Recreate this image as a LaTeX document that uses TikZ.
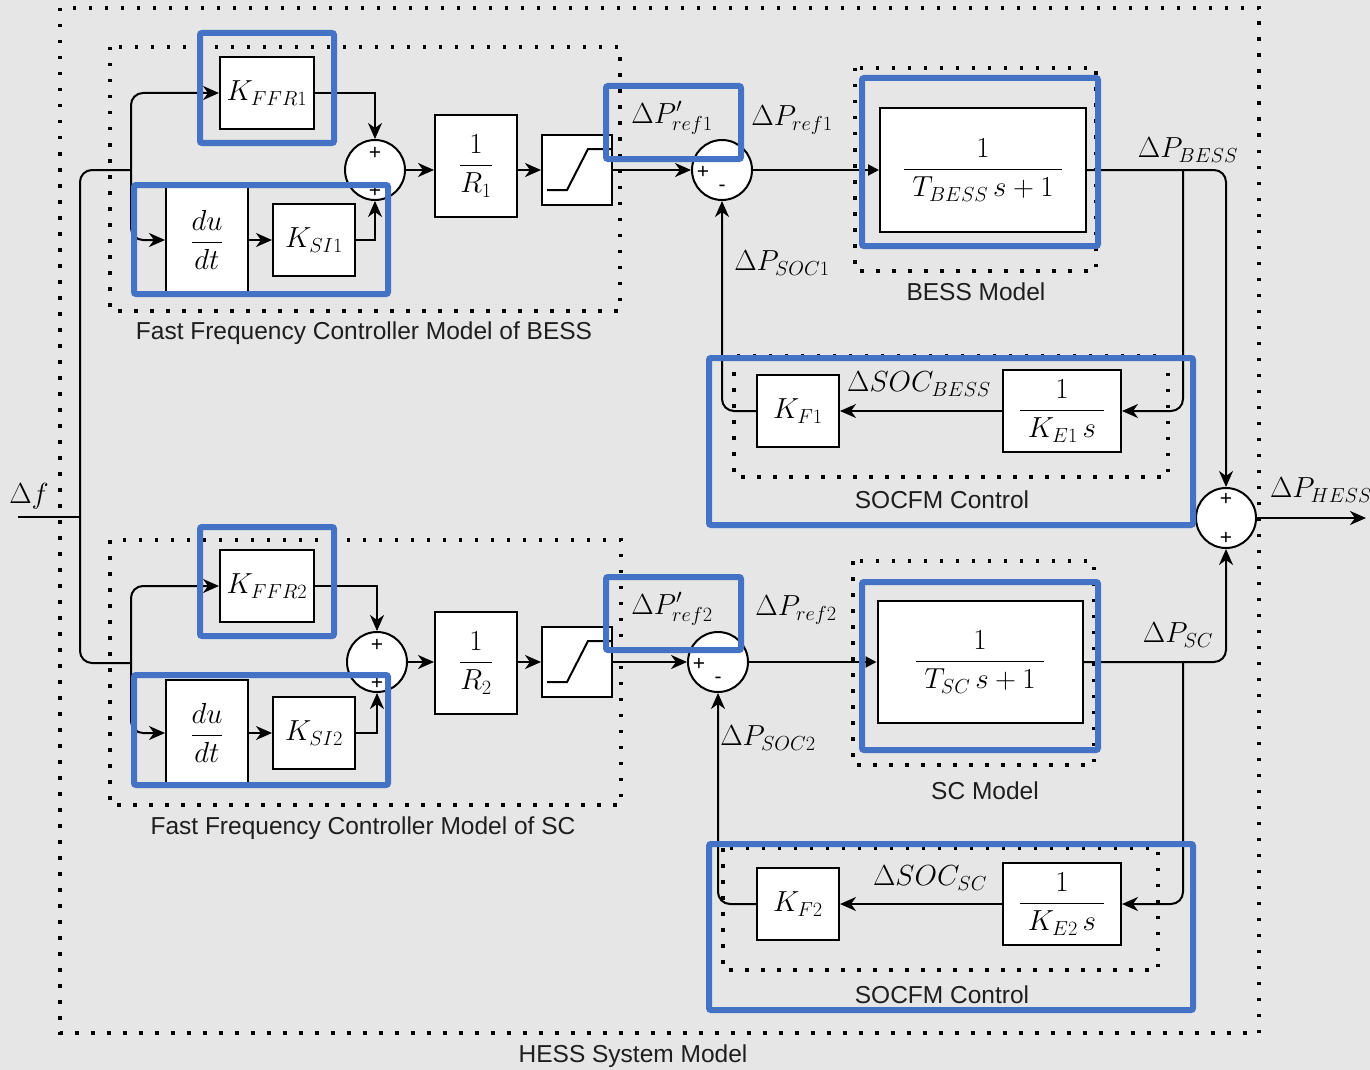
\RequirePackage{fix-cm}
\documentclass[tikz,border=0pt]{standalone}
\usepackage{amsmath}
\usepackage{fontspec}
\newfontfamily\labfont{Liberation Sans}
\usetikzlibrary{arrows.meta,calc}
\definecolor{bgc}{HTML}{E6E6E6}
\definecolor{hlblue}{HTML}{4472C4}
\definecolor{labc}{HTML}{1E1E1E}
\newcommand{\mfnt}{\fontsize{29}{35}\selectfont}
\begin{document}
\begin{tikzpicture}[x=1pt,y=-1pt,
  wire/.style={line width=2pt},
  arr/.style={wire,-{Stealth[length=16pt,width=14pt,inset=5pt]}},
  tri/.style={wire,-{Triangle[length=11pt,width=11pt]}},
  blk/.style={draw=black,line width=2pt,fill=white,inner sep=0pt,font=\mfnt},
  sumc/.style={circle,draw=black,line width=2pt,fill=white,minimum size=60pt,inner sep=0pt},
  sgn/.style={font=\labfont\fontsize{21}{21}\selectfont,inner sep=0pt},
  mlab/.style={font=\mfnt,inner sep=0pt},
  slab/.style={font=\labfont\fontsize{24.5}{28}\selectfont,text=labc,inner sep=0pt},
  dotfr/.style={line width=3.5pt,dash pattern=on 3.5pt off 12.5pt},
  hl/.style={draw=hlblue,line width=6pt,rounded corners=2pt},
  rc/.style={rounded corners=12pt}
]
\useasboundingbox (0,0) rectangle (1370,1070);
\fill[bgc] (0,0) rectangle (1370,1070);

% ---------- upper branch (BESS) ----------
\node[blk,minimum width=94pt,minimum height=72pt] (kffr1) at (267,93) {$K_{FFR1}$};
\node[blk,minimum width=82pt,minimum height=106pt] (dudt1) at (207,240) {$\dfrac{du}{dt}$};
\node[blk,minimum width=82pt,minimum height=72pt] (ksi1) at (314,240) {$K_{SI1}$};
\node[sumc] (sum1) at (375,170) {};
\node[blk,minimum width=82pt,minimum height=102pt] (r1) at (476,166) {$\dfrac{1}{R_1}$};
\node[blk,minimum width=70pt,minimum height=70pt] (lim1) at (577,170) {};
\node[sumc] (sum2) at (722,170) {};
\node[blk,minimum width=206pt,minimum height=124pt] (bess) at (983,170) {$\dfrac{\;1\;}{\;T_{BESS}\,s+1\;}$};
\node[blk,minimum width=82pt,minimum height=72pt] (kf1) at (798,411) {$K_{F1}$};
\node[blk,minimum width=118pt,minimum height=82pt] (ke1) at (1062,411) {$\dfrac{1}{\;K_{E1}\,s\;}$};
\node[sumc] (sum3) at (1226,518) {};

% ---------- lower branch (SC) ----------
\node[blk,minimum width=94pt,minimum height=72pt] (kffr2) at (267,586) {$K_{FFR2}$};
\node[blk,minimum width=82pt,minimum height=106pt] (dudt2) at (207,733) {$\dfrac{du}{dt}$};
\node[blk,minimum width=82pt,minimum height=72pt] (ksi2) at (314,733) {$K_{SI2}$};
\node[sumc] (sum4) at (377,662) {};
\node[blk,minimum width=82pt,minimum height=102pt] (r2) at (476,663) {$\dfrac{1}{R_2}$};
\node[blk,minimum width=70pt,minimum height=70pt] (lim2) at (577,662) {};
\node[sumc] (sum5) at (718,662) {};
\node[blk,minimum width=205pt,minimum height=122pt] (sc) at (980,662) {$\dfrac{\;1\;}{\;T_{SC}\,s+1\;}$};
\node[blk,minimum width=82pt,minimum height=72pt] (kf2) at (798,904) {$K_{F2}$};
\node[blk,minimum width=118pt,minimum height=82pt] (ke2) at (1062,904) {$\dfrac{1}{\;K_{E2}\,s\;}$};

% signs
\node[sgn] (s1a) at ($(sum1)+(0,-17)$) {+};
\node[sgn] (s1b) at ($(sum1)+(0,21)$) {+};
\node[sgn] (s2a) at ($(sum2)+(-19,2)$) {+};
\node[sgn] (s2b) at ($(sum2)+(0,18)$) {-};
\node[sgn] (s3a) at ($(sum3)+(0,-19)$) {+};
\node[sgn] (s3b) at ($(sum3)+(0,20)$) {+};
\node[sgn] (s4a) at ($(sum4)+(0,-17)$) {+};
\node[sgn] (s4b) at ($(sum4)+(0,21)$) {+};
\node[sgn] (s5a) at ($(sum5)+(-19,2)$) {+};
\node[sgn] (s5b) at ($(sum5)+(0,18)$) {-};

% limiter characteristics
\draw[wire] ($(lim1.center)+(-30,20)$) -- ++(20,0) -- ++(21,-41) -- ($(lim1.center)+(35,-21)$);
\draw[wire] ($(lim2.center)+(-30,20)$) -- ++(20,0) -- ++(21,-41) -- ($(lim2.center)+(35,-21)$);

% coordinates
\coordinate (dfin) at (18,517);
\coordinate (dfj) at (80,517);
\coordinate (br1) at (131,170);
\coordinate (br2) at (131,663);
\coordinate (bj1) at (1183,170);
\coordinate (bj2) at (1183,662);
\coordinate (out) at (1366,518);

% input distribution
\draw[wire] (dfin) -- (dfj);
\draw[wire,rc] (br1) -| (dfj) |- (br2);
\draw[arr,rc] (br1) |- (kffr1.west);
\draw[arr,rc] (br1) |- (dudt1.west);
\draw[arr,rc] (br2) |- (kffr2.west);
\draw[arr,rc] (br2) |- (dudt2.west);

% upper path
\draw[arr] (dudt1.east) -- (ksi1.west);
\draw[arr] (kffr1.east) -| (sum1.north);
\draw[arr] (ksi1.east) -| (sum1.south);
\draw[arr] (sum1.east) -- (sum1.east -| r1.west);
\draw[arr] (sum1.east -| r1.east) -- (lim1.west);
\draw[arr] (lim1.east) -- (sum2.west);
\draw[tri] (sum2.east) -- (bess.west);
\draw[arr,rc] (bess.east) -| (sum3.north);
\draw[arr,rc] (bj1) |- (ke1.east);
\draw[arr] (ke1.west) -- (kf1.east);
\draw[arr,rc] (kf1.west) -| (sum2.south);

% lower path
\draw[arr] (dudt2.east) -- (ksi2.west);
\draw[arr] (kffr2.east) -| (sum4.north);
\draw[arr] (ksi2.east) -| (sum4.south);
\draw[arr] (sum4.east) -- (sum4.east -| r2.west);
\draw[arr] (sum4.east -| r2.east) -- (lim2.west);
\draw[arr] (lim2.east) -- (sum5.west);
\draw[tri] (sum5.east) -- (sc.west);
\draw[arr,rc] (sc.east) -| (sum3.south);
\draw[arr,rc] (bj2) |- (ke2.east);
\draw[arr] (ke2.west) -- (kf2.east);
\draw[arr,rc] (kf2.west) -| (sum5.south);

% output
\draw[arr] (sum3.east) -- (out);

% math labels
\node[mlab] (ldf) at (29,496) {$\Delta f$};
\node[mlab] (lpr1) at (672,118) {$\Delta P'_{ref1}$};
\node[mlab] (lr1) at (792,120) {$\Delta P_{ref1}$};
\node[mlab] (lsoc1) at (782,263) {$\Delta P_{SOC1}$};
\node[mlab] (lbess) at (1188,150) {$\Delta P_{BESS}$};
\node[mlab] (ldsoc1) at (919,384) {$\Delta SOC_{BESS}$};
\node[mlab] (lhess) at (1321,490) {$\Delta P_{HESS}$};
\node[mlab] (lpr2) at (672,609) {$\Delta P'_{ref2}$};
\node[mlab] (lr2) at (796,610) {$\Delta P_{ref2}$};
\node[mlab] (lsoc2) at (768,738) {$\Delta P_{SOC2}$};
\node[mlab] (lsc) at (1178,635) {$\Delta P_{SC}$};
\node[mlab] (ldsoc2) at (930,878) {$\Delta SOC_{SC}$};

% dotted frames
\draw[dotfr] (60,8) rectangle (1259,1033);
\draw[dotfr] (110,47) rectangle (620,311);
\draw[dotfr] (110,540) rectangle (621,805);
\draw[dotfr] (855,68) rectangle (1096,271);
\draw[dotfr] (853,561) rectangle (1094,765);
\draw[dotfr] (734,356) rectangle (1168,477);
\draw[dotfr] (723,848) rectangle (1158,970);

% text labels
\node[slab] (t1) at (364,333) {Fast Frequency Controller Model of BESS};
\node[slab] (t2) at (976,292) {BESS Model};
\node[slab] (t3) at (942,500) {SOCFM Control};
\node[slab] (t4) at (363,828) {Fast Frequency Controller Model of SC};
\node[slab] (t5) at (985,791) {SC Model};
\node[slab] (t6) at (942,995) {SOCFM Control};
\node[slab] (t7) at (633,1056) {HESS System Model};

% blue highlights
\draw[hl] (200,33) rectangle (334,143);
\draw[hl] (134,185) rectangle (388,294);
\draw[hl] (606,86) rectangle (741,159);
\draw[hl] (862,78) rectangle (1098,246);
\draw[hl] (709,358) rectangle (1193,525);
\draw[hl] (200,527) rectangle (334,636);
\draw[hl] (134,675) rectangle (388,785);
\draw[hl] (606,577) rectangle (741,650);
\draw[hl] (862,582) rectangle (1098,750);
\draw[hl] (709,844) rectangle (1193,1010);
\end{tikzpicture}
\end{document}
